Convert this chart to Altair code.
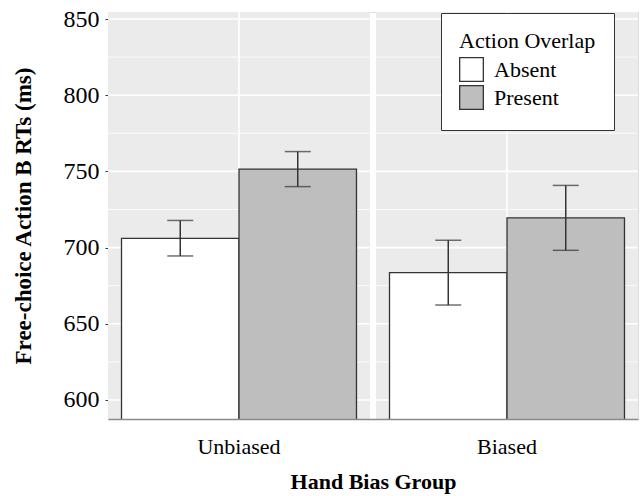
import altair as alt
import pandas as pd

groups = ["Unbiased", "Biased"]
overlap_levels = ["Absent", "Present"]
bar_group = ["Unbiased", "Unbiased", "Biased", "Biased"]
bar_overlap = ["Absent", "Present", "Absent", "Present"]
means = [706.0, 751.5, 683.5, 719.5]
lower = [694.5, 740.0, 662.3, 698.2]
upper = [717.8, 763.0, 704.8, 740.8]

major_ticks = [600, 650, 700, 750, 800, 850]
minor_ticks = [625, 675, 725, 775, 825]
y_domain = [587.5, 854.6]

FONT = "Liberation Serif"
TXT = "#000000"

df = pd.DataFrame({"group": bar_group, "overlap": bar_overlap,
                   "mean": means, "lower": lower, "upper": upper})
bg_df = pd.DataFrame({"group": groups})
major_df = pd.DataFrame({"v": major_ticks})
minor_df = pd.DataFrame({"v": minor_ticks})

x_scale = alt.Scale(domain=groups, paddingInner=0.0224, paddingOuter=0)
y_scale = alt.Scale(domain=y_domain, nice=False, zero=False)
xo_scale = alt.Scale(domain=overlap_levels, paddingInner=0, paddingOuter=0.115)

x_axis = alt.Axis(title="Hand Bias Group", labelFont=FONT, labelFontSize=22,
                  labelColor=TXT, labelPadding=17, labelAngle=0, ticks=False,
                  grid=False, domain=True, domainColor="#8a8a8a", domainWidth=1.5,
                  titleFont=FONT, titleFontSize=22, titleFontWeight="bold",
                  titleColor=TXT, titlePadding=14)
y_axis = alt.Axis(title="Free-choice Action B RTs (ms)", values=major_ticks,
                  labelFont=FONT, labelFontSize=24, labelColor=TXT, labelPadding=6,
                  ticks=True, tickSize=3, tickColor="#333333", tickWidth=1,
                  grid=False, domain=False,
                  titleFont=FONT, titleFontSize=23, titleFontWeight="bold",
                  titleColor=TXT, titlePadding=28)

bg = alt.Chart(bg_df).mark_rect(color="#EBEBEB").encode(
    x=alt.X("group:N", scale=x_scale, axis=x_axis, sort=groups)
)
minor = alt.Chart(minor_df).mark_rule(color="white", strokeWidth=0.8).encode(
    y=alt.Y("v:Q", scale=y_scale, axis=y_axis)
)
major = alt.Chart(major_df).mark_rule(color="white", strokeWidth=1.6).encode(
    y=alt.Y("v:Q", scale=y_scale, axis=y_axis)
)
vgrid = alt.Chart(bg_df).mark_rule(color="white", strokeWidth=1.6).encode(
    x=alt.X("group:N", scale=x_scale, axis=x_axis, sort=groups)
)

bars = alt.Chart(df).mark_bar(stroke="#333333", strokeWidth=1.3, clip=True).encode(
    x=alt.X("group:N", scale=x_scale, axis=x_axis, sort=groups),
    xOffset=alt.XOffset("overlap:N", scale=xo_scale, sort=overlap_levels),
    y=alt.Y("mean:Q", scale=y_scale, axis=y_axis),
    fill=alt.Fill("overlap:N", sort=overlap_levels,
                  scale=alt.Scale(domain=overlap_levels, range=["#FFFFFF", "#BEBEBE"]),
                  legend=alt.Legend(title="Action Overlap", orient="none",
                                    legendX=333, legendY=1,
                                    fillColor="white", strokeColor="#333333",
                                    padding=18, titleFont=FONT, titleFontSize=22,
                                    titleFontWeight="normal", titleColor=TXT,
                                    titlePadding=4,
                                    labelFont=FONT, labelFontSize=22, labelColor=TXT,
                                    labelOffset=10,
                                    symbolType="square", symbolSize=560,
                                    symbolStrokeColor="#333333", symbolStrokeWidth=1.3,
                                    rowPadding=-1)),
)

err = alt.Chart(df).mark_rule(color="#333333", strokeWidth=1.5).encode(
    x=alt.X("group:N", scale=x_scale, axis=x_axis, sort=groups),
    xOffset=alt.XOffset("overlap:N", scale=xo_scale, sort=overlap_levels),
    y=alt.Y("lower:Q", scale=y_scale, axis=y_axis),
    y2="upper:Q",
)
cap_hi = alt.Chart(df).mark_tick(color="#333333", thickness=1.5, size=26, orient="horizontal").encode(
    x=alt.X("group:N", scale=x_scale, axis=x_axis, sort=groups),
    xOffset=alt.XOffset("overlap:N", scale=xo_scale, sort=overlap_levels),
    y=alt.Y("upper:Q", scale=y_scale, axis=y_axis),
)
cap_lo = alt.Chart(df).mark_tick(color="#333333", thickness=1.5, size=26, orient="horizontal").encode(
    x=alt.X("group:N", scale=x_scale, axis=x_axis, sort=groups),
    xOffset=alt.XOffset("overlap:N", scale=xo_scale, sort=overlap_levels),
    y=alt.Y("lower:Q", scale=y_scale, axis=y_axis),
)

chart = alt.layer(bg, minor, major, vgrid, bars, err, cap_hi, cap_lo).properties(
    width=530, height=407,
    autosize=alt.AutoSizeParams(type="none"),
    padding={"left": 108, "top": 12, "right": 6, "bottom": 77},
).configure_view(stroke=None).configure(background="white")

chart.save("out.html", embed_options={"renderer": "svg", "actions": False})
